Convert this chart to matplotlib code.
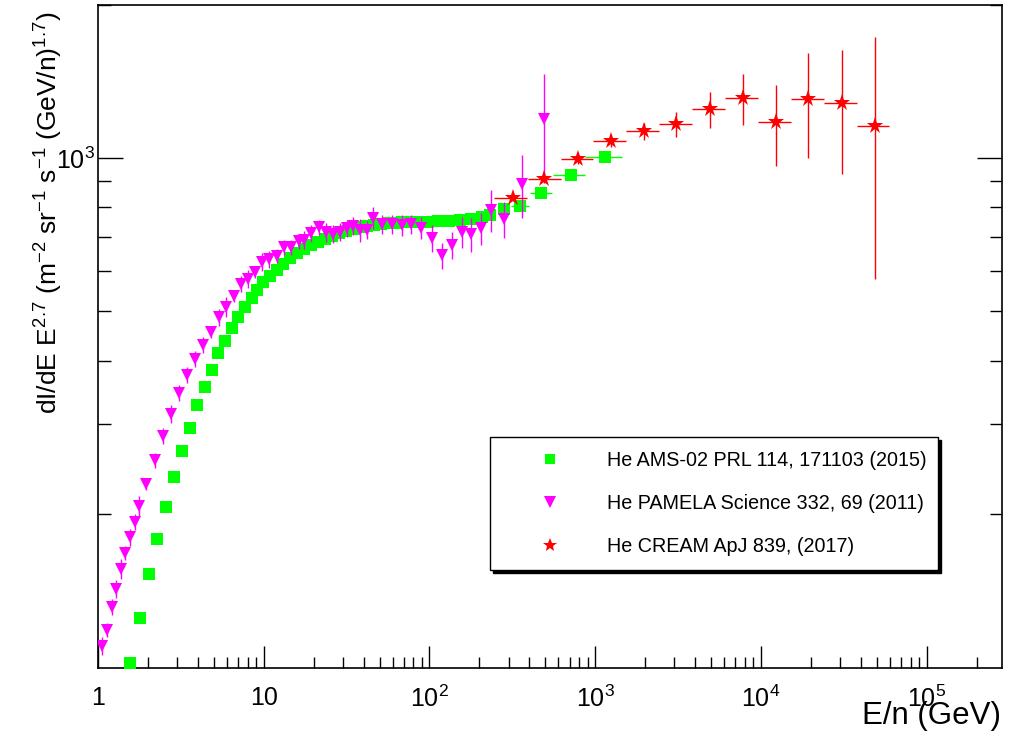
import numpy as np
import matplotlib
matplotlib.use("Agg")
import matplotlib.pyplot as plt
from matplotlib.lines import Line2D
from matplotlib.ticker import FixedLocator, NullFormatter, FixedFormatter, LogLocator

plt.rcParams['font.family'] = ['Liberation Sans', 'DejaVu Sans']
plt.rcParams['mathtext.default'] = 'regular'
plt.rcParams['mathtext.fontset'] = 'custom'
plt.rcParams['mathtext.rm'] = 'Liberation Sans'
plt.rcParams['mathtext.it'] = 'Liberation Sans:italic'
plt.rcParams['mathtext.bf'] = 'Liberation Sans:bold'

# ---------------- data ----------------
# AMS-02 helium
ams_E = [1.56, 1.79, 2.03, 2.27, 2.57, 2.88, 3.21, 3.59, 3.96, 4.42, 4.88, 5.30, 5.84, 6.44,
         7.00, 7.71, 8.50, 9.11, 9.90, 10.9, 12.0, 13.1, 14.4, 15.9, 17.5, 19.3, 21.3, 23.4,
         25.8, 28.5, 31.4, 34.6, 38.1, 42.0, 46.3, 51.0, 56.3, 62.0, 68.3, 76.4, 85.4, 98.1,
         113, 131, 153, 178, 208, 232, 282, 352, 472, 715, 1150]
ams_F = [102, 125, 152, 178, 206, 236, 266, 295, 327, 355, 383, 414, 437, 463,
         487, 510, 531, 550, 571, 586, 603, 619, 636, 651, 663, 675, 684, 694,
         703, 712, 719, 726, 732, 735, 739, 742, 745, 745, 749, 749, 749, 749,
         752, 752, 755, 759, 766, 773, 794, 805, 854, 926, 1005]
# energy bin edges for the highest AMS points (last four)
ams_bin_lo = [311, 405, 557, 869]
ams_bin_hi = [399, 549, 869, 1453]

# PAMELA helium
pam_E = [1.057, 1.133, 1.215, 1.284, 1.377, 1.455, 1.560, 1.672, 1.768, 1.949,
         2.208, 2.468, 2.758, 3.082, 3.444, 3.850, 4.302, 4.808, 5.373, 5.923,
         6.620, 7.295, 8.040, 8.862, 9.765, 10.76, 12.03, 13.26, 14.62, 16.33,
         17.51, 19.30, 21.57, 23.77, 26.19, 28.87, 31.82, 34.58, 38.13, 42.02,
         45.66, 51.74, 59.47, 68.33, 77.43, 88.97, 103.7, 119.1, 136.9, 157.3,
         178.2, 204.8, 235.3, 281.9, 362.2, 491.6]
pam_F = [110.0, 118.2, 131.2, 142.3, 155.8, 167.5, 180.0, 192.7, 207.1, 228.8,
         255.1, 284.3, 314.1, 345.4, 374.8, 402.8, 429.1, 455.1, 487.1, 509.7,
         535.7, 565.5, 578.4, 597.0, 624.6, 633.1, 641.7, 668.5, 668.5, 686.9,
         690.1, 712.3, 731.8, 715.5, 709.1, 715.5, 728.5, 735.2, 722.1, 722.1,
         764.0, 741.8, 741.8, 738.6, 741.8, 728.5, 696.6, 644.6, 674.6, 715.5,
         709.1, 728.5, 790.4, 758.8, 889.0, 1193]
pam_err = [4.7, 3.7, 4.7, 5.7, 7.0, 5.6, 6.9, 6.9, 9.4, 5.7,
           8.6, 10, 12.7, 12, 13.5, 15, 16, 13, 19, 23,
           14.5, 21, 23, 16, 25, 25, 20, 23, 23, 23,
           28, 27, 25, 30, 29, 29, 29, 30, 37, 29,
           37, 33, 33, 34, 33, 36, 43, 38, 41, 50,
           54, 53, 76, 63, 125, 271]

# CREAM helium
cream_E = [320, 492, 789, 1247, 1973, 3077, 4936, 7808, 12350, 19270, 30900, 48900]
cream_Elo = [245, 394, 623, 971, 1537, 2430, 3844, 6081, 9618, 15220, 24070, 38070]
cream_Ehi = [388, 623, 971, 1537, 2430, 3844, 6081, 9618, 15220, 24070, 38070, 59390]
cream_F = [835, 909, 996, 1080, 1130, 1166, 1248, 1312, 1177, 1306, 1282, 1156]
cream_err = [12, 14, 20, 27, 43, 65, 104, 150, 213, 304, 353, 577]

labels = ["He AMS-02 PRL 114, 171103 (2015)",
          "He PAMELA Science 332, 69 (2011)",
          "He CREAM ApJ 839, (2017)"]
x_tick_vals = [1, 10, 100, 1000, 1e4, 1e5]
x_tick_labels = ['1', '10', '$10^{2}$', '$10^{3}$', '$10^{4}$', '$10^{5}$']
y_tick_vals = [1000]
y_tick_labels = ['$10^{3}$']

GREEN, MAGENTA, RED = '#00ff00', '#ff00ff', '#ff0000'

# ---------------- figure ----------------
fig = plt.figure(figsize=(10.2, 7.32), dpi=100)
ax = fig.add_axes([98/1020, 64/732, 904/1020, 663/732])
ax.set_xscale('log')
ax.set_yscale('log')
ax.set_xlim(1, 2.85e5)
ax.set_ylim(99.5, 2000)

# AMS
ams_E_a = np.array(ams_E, float)
ams_F_a = np.array(ams_F, float)
n_hi = len(ams_bin_lo)
xerr_lo = np.zeros(len(ams_E_a)); xerr_hi = np.zeros(len(ams_E_a))
xerr_lo[-n_hi:] = ams_E_a[-n_hi:] - np.array(ams_bin_lo)
xerr_hi[-n_hi:] = np.array(ams_bin_hi) - ams_E_a[-n_hi:]
ax.errorbar(ams_E_a, ams_F_a, xerr=[xerr_lo, xerr_hi], fmt='s', color=GREEN,
            ms=8.4, mew=0, elinewidth=1.0, capsize=2.2, capthick=1.0, zorder=3)

# PAMELA
ax.errorbar(pam_E, pam_F, yerr=pam_err, fmt='v', color=MAGENTA,
            ms=9.2, mew=0, elinewidth=1.0, capsize=2.2, capthick=1.0, zorder=4)

# CREAM
cE = np.array(cream_E, float)
ax.errorbar(cE, cream_F, yerr=cream_err,
            xerr=[cE - np.array(cream_Elo), np.array(cream_Ehi) - cE],
            fmt='*', color=RED, ms=12.5, mew=0, elinewidth=1.0, capsize=2.2,
            capthick=1.0, zorder=5)

# ticks
ax.xaxis.set_major_locator(FixedLocator(x_tick_vals))
ax.xaxis.set_major_formatter(FixedFormatter(x_tick_labels))
ax.xaxis.set_minor_locator(LogLocator(base=10, subs=np.arange(2, 10), numticks=20))
ax.xaxis.set_minor_formatter(NullFormatter())
ax.yaxis.set_major_locator(FixedLocator(y_tick_vals))
ax.yaxis.set_major_formatter(FixedFormatter(y_tick_labels))
ax.yaxis.set_minor_locator(LogLocator(base=10, subs=np.arange(2, 10), numticks=20))
ax.yaxis.set_minor_formatter(NullFormatter())

ax.tick_params(axis='x', which='major', direction='in', length=16, width=1,
               labelsize=18, pad=13, top=False)
ax.tick_params(axis='x', which='minor', direction='in', length=8, width=1, top=False)
ax.tick_params(axis='y', which='major', direction='in', length=18, width=1,
               labelsize=18, pad=2, right=True)
ax.tick_params(axis='y', which='minor', direction='in', length=9, width=1, right=True)
for s in ax.spines.values():
    s.set_linewidth(1.2)
    s.set_color('black')

ax.set_ylabel(r'dI/dE E$^{2.7}$ (m$^{-2}$ sr$^{-1}$ s$^{-1}$ (GeV/n)$^{1.7}$)',
              fontsize=19, loc='top')
ax.yaxis.set_label_coords(-0.037, 0.99)
ax.set_xlabel('E/n (GeV)', fontsize=22.5, loc='right')
ax.xaxis.set_label_coords(0.9985, -0.05)

# legend
handles = [Line2D([], [], ls='none', marker='s', color=GREEN, ms=7.2, mew=0),
           Line2D([], [], ls='none', marker='v', color=MAGENTA, ms=8, mew=0),
           Line2D([], [], ls='none', marker='*', color=RED, ms=10.5, mew=0)]
leg = ax.legend(handles, labels, loc='upper left',
                bbox_to_anchor=(0.4336, 0.1523, 0.4956, 0.1961), mode='expand',
                borderaxespad=0, fontsize=14.2, frameon=True, fancybox=False,
                edgecolor='black', framealpha=1, handlelength=4.7,
                handletextpad=0.55, labelspacing=1.23, borderpad=0.7,
                shadow={'color': 'black', 'alpha': 1})
leg.get_frame().set_linewidth(1.0)

fig.savefig('out.png', dpi=100)
